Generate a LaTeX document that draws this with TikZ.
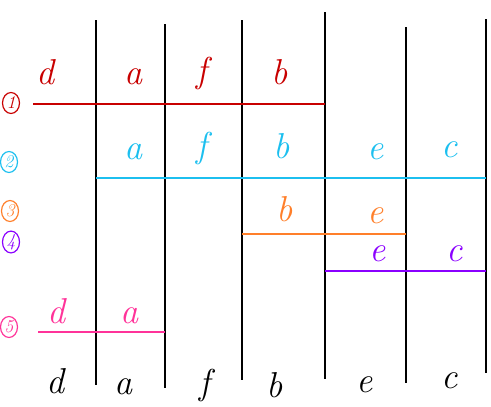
\documentclass[tikz,border=0pt]{standalone}
\usepackage{fontspec}
\usetikzlibrary{positioning,shapes.geometric}
\definecolor{rowone}{HTML}{C80000}
\definecolor{rowtwo}{HTML}{1CBFEF}
\definecolor{rowthree}{HTML}{FF7F2A}
\definecolor{rowfour}{HTML}{8A00FF}
\definecolor{rowfive}{HTML}{FF3399}

\begin{document}
\begin{tikzpicture}[
    x=1pt,y=-1pt,
    col/.style={line width=2.8pt,black},
    seg/.style={line width=2.2pt},
    lbl/.style={font=\fontsize{36}{36}\selectfont\itshape,inner sep=0pt},
    num/.style={ellipse,draw,line width=1.2pt,inner sep=0pt,minimum width=17pt,minimum height=21pt,font=\fontsize{18}{18}\selectfont\itshape},
  ]
    \useasboundingbox (0,0) rectangle (491,407);
    % column separators
    \foreach \n/\x/\t/\b in {1/96/20/385,2/165/24/388,3/242/20/380,4/325/12/379,5/406/27/383,6/486/19/373} {
      \coordinate (c\n t) at (\x,\t);
      \coordinate (c\n b) at (\x,\b);
      \draw[col] (c\n t) -- (c\n b);
    }

    % row 1
    \node[num,draw=rowone,text=rowone] (n1) at (11,103) {1};
    \coordinate (r1s) at (33,104);
    \draw[seg,rowone] (r1s) -- (r1s -| c4t);
    \node[lbl,rowone] (r1d) at (46,72) {d};
    \node[lbl,rowone] (r1a) at (133,77) {a};
    \node[lbl,rowone] (r1f) at (202,73) {f};
    \node[lbl,rowone] (r1b) at (280,72) {b};

    % row 2
    \node[num,draw=rowtwo,text=rowtwo] (n2) at (9,162) {2};
    \coordinate (r2s) at (c1t |- 0,178);
    \draw[seg,rowtwo] (r2s) -- (r2s -| c6t);
    \node[lbl,rowtwo] (r2a) at (133,152) {a};
    \node[lbl,rowtwo] (r2f) at (202,148) {f};
    \node[lbl,rowtwo] (r2b) at (282,146) {b};
    \node[lbl,rowtwo] (r2e) at (376,152) {e};
    \node[lbl,rowtwo] (r2c) at (450,150) {c};

    % row 3
    \node[num,draw=rowthree,text=rowthree] (n3) at (10,211) {3};
    \coordinate (r3s) at (c3t |- 0,234);
    \draw[seg,rowthree] (r3s) -- (r3s -| c5t);
    \node[lbl,rowthree] (r3b) at (285,209) {b};
    \node[lbl,rowthree] (r3e) at (376,216) {e};

    % row 4
    \node[num,draw=rowfour,text=rowfour] (n4) at (11,242) {4};
    \coordinate (r4s) at (c4t |- 0,271);
    \draw[seg,rowfour] (r4s) -- (r4s -| c6t);
    \node[lbl,rowfour] (r4e) at (378,254) {e};
    \node[lbl,rowfour] (r4c) at (455,254) {c};

    % row 5
    \node[num,draw=rowfive,text=rowfive] (n5) at (9,327) {5};
    \coordinate (r5s) at (38,332);
    \draw[seg,rowfive] (r5s) -- (r5s -| c2t);
    \node[lbl,rowfive] (r5d) at (56,311) {d};
    \node[lbl,rowfive] (r5a) at (130,316) {a};

    % column headings
    \node[lbl] (hd) at (55,381) {d};
    \node[lbl] (ha) at (123,387) {a};
    \node[lbl] (hf) at (205,385) {f};
    \node[lbl] (hb) at (275,385) {b};
    \node[lbl] (he) at (365,385) {e};
    \node[lbl] (hc) at (450,381) {c};
  \end{tikzpicture}
\end{document}
